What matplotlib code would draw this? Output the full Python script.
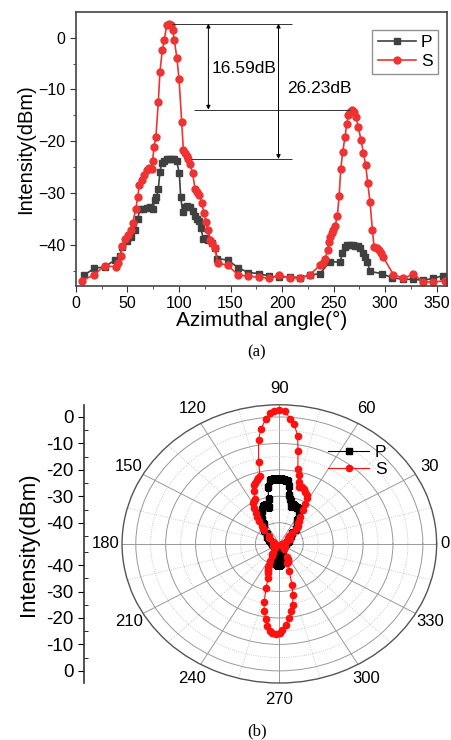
import numpy as np
import matplotlib.pyplot as plt
from matplotlib.ticker import MultipleLocator, FixedLocator, NullFormatter
from matplotlib.transforms import offset_copy

plt.rcParams['font.family'] = ['Liberation Sans', 'DejaVu Sans']

# S polarization (red), angle in degrees, intensity in dBm
angle_s = [5.5, 17.8, 28, 38.5, 41, 43.4, 45, 47.6, 50.8, 53.4, 55, 58, 60, 61.5, 63.7,
           66.3, 68.6, 70.9, 73.4, 74.4, 75.7, 77.6, 79.9, 81.5, 83.8, 85.7, 88, 90.3,
           92.2, 93.8, 95.4, 98, 100, 102.6, 104.2, 105.8, 107.4, 109, 110.6, 113.2,
           115.5, 117.8, 119.7, 122, 124.2, 126.2, 128.4, 130, 132.3, 134.9, 137.5,
           147.2, 157.6, 167.3, 177.6, 187.6, 197.3, 207.7, 217.4, 227.1, 236.8, 239.4,
           241.7, 244.3, 245.5, 246.5, 248.2, 249.8, 251.4, 253.6, 255.3, 256.9, 258.8,
           261.1, 262.7, 264.4, 266, 268.2, 270.1, 271.8, 274, 276.6, 278.9, 281.1,
           283.1, 285.3, 287.6, 289.2, 291.8, 294, 296, 298.3, 308, 317.7, 327.4,
           337.1, 346.8, 358]
s_vals = [-46.9, -45.7, -44.0, -44.2, -43.5, -42.2, -40.1, -38.9, -38.0, -37.1, -35.8,
          -33.1, -30.7, -28.4, -27.4, -26.5, -25.6, -25.2, -25.4, -23.8, -21.1, -19.1,
          -12.4, -6.6, -2.4, -0.5, 2.4, 2.7, 2.4, 1.5, -0.5, -4.0, -8.0, -16.2, -21.7,
          -22.3, -22.8, -23.5, -24.3, -26.2, -29.1, -29.7, -30.4, -31.8, -33.9, -35.6,
          -37.1, -39.0, -39.7, -40.6, -43.5, -43.9, -45.8, -46.0, -46.2, -46.4, -45.8,
          -46.3, -46.4, -45.7, -43.9, -43.5, -42.6, -41.0, -39.4, -38.4, -37.6, -37.1,
          -36.3, -34.4, -30.6, -25.4, -22.0, -19.1, -16.6, -15.0, -14.3, -14.0, -14.4,
          -15.4, -17.3, -19.8, -22.2, -24.6, -28.1, -31.7, -37.1, -40.3, -40.6, -41.0,
          -41.6, -42.4, -45.7, -46.4, -45.6, -47.1, -47.1, -46.9]

# P polarization (grey)
angle_p = [7.8, 17.8, 27.8, 37.9, 42.7, 45, 49.2, 53, 57.3, 60, 62, 65.4, 68.6, 71.8,
           74.4, 76.4, 78, 79.9, 81.5, 83.1, 85.4, 88, 90.6, 92.9, 95.1, 97.7, 100.3,
           101.6, 103.5, 105.8, 108, 110.6, 113.2, 115.5, 117.8, 119.7, 121.3, 123.6,
           125.8, 128.4, 131.7, 134.9, 137.2, 147.2, 157.6, 167.3, 177.6, 187.6, 197.3,
           207.7, 217.4, 227.1, 236.8, 246.5, 256.2, 258.5, 261.1, 263.3, 266, 268.5,
           271.1, 274, 275.6, 278.2, 280.5, 282.8, 285.3, 296.7, 306.4, 317.7, 327.4,
           337.1, 346.8, 356.4]
p_vals = [-45.8, -44.5, -44.2, -42.9, -42.2, -40.3, -39.2, -38.4, -37.1, -34.9, -33.1,
          -33.1, -32.9, -32.6, -33.1, -31.3, -30.8, -29.2, -25.9, -24.1, -23.8, -23.5,
          -23.4, -23.4, -23.5, -23.8, -26.2, -30.7, -33.6, -32.7, -32.4, -32.6, -33.5,
          -34.4, -34.9, -35.3, -36.8, -38.9, -38.7, -39.0, -39.6, -40.6, -42.6, -42.9,
          -44.4, -45.3, -45.5, -46.0, -46.2, -46.1, -46.3, -45.8, -45.5, -43.2, -43.3,
          -41.6, -40.3, -40.0, -40.0, -40.0, -40.1, -40.2, -40.6, -41.6, -42.4, -43.3,
          -45.1, -45.5, -46.3, -46.6, -46.6, -46.8, -46.4, -45.9]

s_peak1 = 2.7
s_peak2 = -13.9
p_peak = -23.4
r_min, r_max = -48, 4.6

fig = plt.figure(figsize=(4.52, 7.40), dpi=100)

# ---------- (a) cartesian ----------
ax = fig.add_axes([0.168, 0.6135, 0.821, 0.370])
ax.plot(angle_p, p_vals, 's-', color='#404040', markersize=5, linewidth=1.2, label='P')
ax.plot(angle_s, s_vals, 'o-', color='#ee3333', markersize=5, linewidth=1.2, label='S')
ax.set_xlim(0, 360)
ax.set_ylim(-47.9, 4.9)
ax.xaxis.set_major_locator(MultipleLocator(50))
ax.xaxis.set_minor_locator(MultipleLocator(25))
ax.yaxis.set_major_locator(FixedLocator([-40, -30, -20, -10, 0]))
ax.yaxis.set_minor_locator(MultipleLocator(5))
ax.tick_params(which='both', direction='out', labelsize=11.5, color='#333333')
ax.tick_params(which='major', length=4)
ax.tick_params(which='minor', length=2.5)
for sp in ax.spines.values():
    sp.set_color('#444444')
    sp.set_linewidth(1.2)
ax.set_xlabel('Azimuthal angle(°)', fontsize=15, labelpad=0)
ax.set_ylabel('Intensity(dBm)', fontsize=14.5, labelpad=2)

# annotation lines and arrows
ax.hlines(s_peak1, 93, 210, color='#333333', linewidth=0.7)
ax.hlines(s_peak2, 115, 266, color='#333333', linewidth=0.7)
ax.hlines(p_peak, 112, 210, color='#333333', linewidth=0.7)
arrow = dict(arrowstyle='<|-|>', color='black', linewidth=0.7, mutation_scale=6,
             shrinkA=0, shrinkB=0)
ax.annotate('', xy=(128.5, s_peak1), xytext=(128.5, s_peak2), arrowprops=arrow)
ax.annotate('', xy=(196.5, s_peak1), xytext=(196.5, p_peak), arrowprops=arrow)
ax.text(132, -5.9, '16.59dB', fontsize=12.5, va='center', ha='left')
ax.text(205, -9.8, '26.23dB', fontsize=12.5, va='center', ha='left')

leg = ax.legend(loc='upper right', bbox_to_anchor=(0.975, 0.935), fontsize=12.5,
                handlelength=2.2, handletextpad=0.3, borderpad=0.3, labelspacing=0.2,
                fancybox=False, borderaxespad=0)
leg.get_frame().set_edgecolor('#777777')
leg.get_frame().set_linewidth(1.0)

fig.text(0.568, 0.524, '(a)', fontsize=12, family='Liberation Serif', ha='center', va='center')

# ---------- (b) polar ----------
pax = fig.add_axes([0.270, 0.077, 0.696, 0.376], projection='polar')
pax.set_aspect('auto')
pax.plot(np.deg2rad(angle_p), p_vals, 's-', color='black', markersize=4, linewidth=0.8, label='P')
pax.plot(np.deg2rad(angle_s), s_vals, 'o-', color='#ff1010', markersize=4.5, linewidth=0.8, label='S')
pax.set_ylim(r_min, r_max)
pax.set_yticks([-40, -30, -20, -10, 0])
pax.yaxis.set_minor_locator(FixedLocator([-45, -35, -25, -15, -5]))
pax.set_yticklabels([])
theta_labels = [str(a) for a in range(0, 360, 30)]
pax.set_xticks(np.deg2rad(np.arange(0, 360, 30)))
pax.set_xticklabels([''] + theta_labels[1:], fontsize=12)
pax.xaxis.set_minor_locator(FixedLocator(np.deg2rad(np.arange(15, 360, 30))))
pax.xaxis.set_minor_formatter(NullFormatter())
pax.tick_params(axis='x', which='both', length=0, pad=5)
# the 0 label sits close to the right edge
pax.text(0, r_max, theta_labels[0], fontsize=12, ha='left', va='center', clip_on=False,
         transform=offset_copy(pax.transData, fig=fig, x=3, units='points'))
pax.grid(which='major', color='#999999', linewidth=0.7, linestyle='-')
pax.grid(which='minor', color='#bbbbbb', linewidth=0.6, linestyle=':')
pax.spines['polar'].set_color('#555555')
pax.spines['polar'].set_linewidth(1.0)
pax.legend(loc='center', bbox_to_anchor=(0.79, 0.377), bbox_transform=fig.transFigure,
           frameon=False, fontsize=12.5, handlelength=2.4, handletextpad=0.3, labelspacing=0.15)

# radial scale on the left, mirrored about the centre
span = r_max - r_min
sax = fig.add_axes([0.186, 0.077, 0.001, 0.376])
sax.set_ylim(-span, span)
sax.set_xlim(0, 1)
for name in ['top', 'right', 'bottom']:
    sax.spines[name].set_visible(False)
sax.spines['left'].set_color('#333333')
sax.spines['left'].set_linewidth(1.2)
sax.set_xticks([])
ticks = [-40, -30, -20, -10, 0]
pos = [t - r_min for t in ticks] + [-(t - r_min) for t in ticks]
sax.set_yticks(pos)
sax.set_yticklabels([str(t) for t in ticks] * 2, fontsize=13.5)
minor = [-45, -35, -25, -15, -5]
sax.yaxis.set_minor_locator(FixedLocator([m - r_min for m in minor] + [-(m - r_min) for m in minor]))
sax.tick_params(which='major', direction='out', length=4)
sax.tick_params(which='minor', direction='in', length=3)
fig.text(0.062, 0.265, 'Intensity(dBm)', fontsize=16, rotation=90, ha='center', va='center')

fig.text(0.568, 0.012, '(b)', fontsize=12, family='Liberation Serif', ha='center', va='center')

fig.savefig('out.png', dpi=100)
